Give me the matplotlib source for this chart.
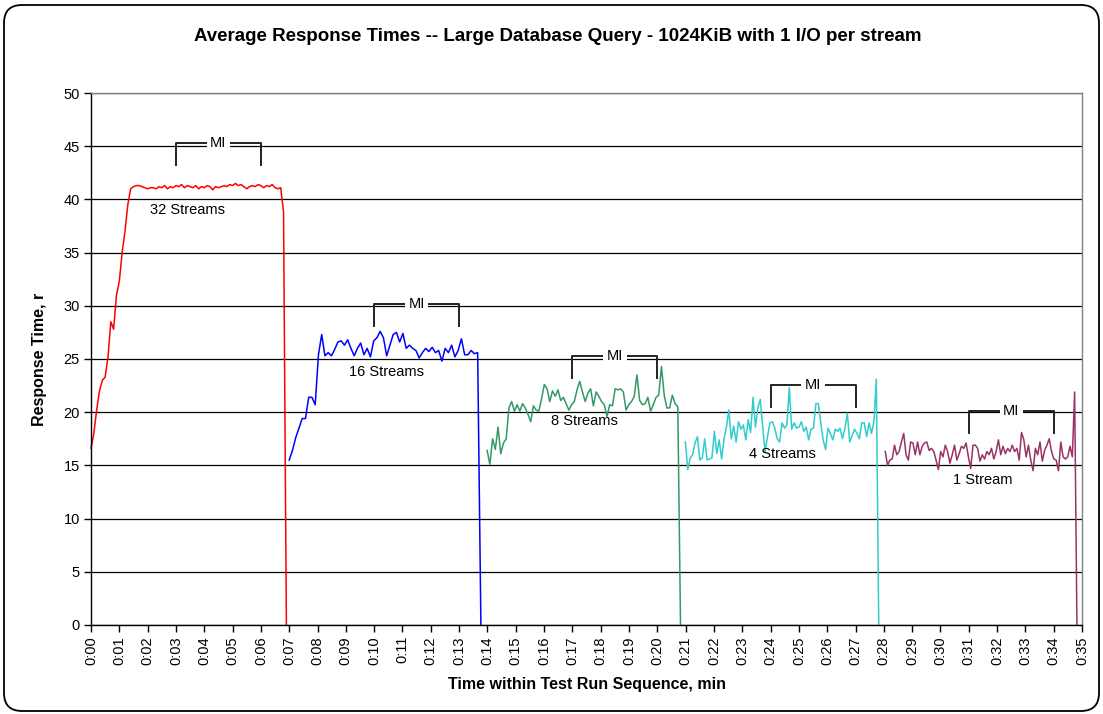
import numpy as np
import matplotlib
matplotlib.use("Agg")
import matplotlib.pyplot as plt
from matplotlib.patches import FancyBboxPatch

plt.rcParams['font.family'] = ['Liberation Sans', 'DejaVu Sans']

# response time samples per run, last sample is the drop to zero at end of run
red_vals = [16.6, 18.0, 20.2, 22.0, 23.0, 23.3, 25.2, 28.5, 27.8, 31.0,
            32.3, 35.0, 37.0, 39.5, 41.0,
            41.2, 41.3, 41.3, 41.2, 41.1, 41.0, 41.1, 41.1, 41.0, 41.2,
            41.1, 41.3, 41.0, 41.2, 41.1, 41.3, 41.2, 41.4, 41.1, 41.3,
            41.2, 41.1, 41.3, 41.0, 41.2, 41.1, 41.3, 41.2, 40.9, 41.2,
            41.1, 41.2, 41.3, 41.2, 41.4, 41.3, 41.5, 41.3, 41.4, 41.2,
            41.0, 41.2, 41.3, 41.2, 41.4, 41.3, 41.1, 41.3, 41.2, 41.4,
            41.1, 41.0, 41.1, 38.8, 0.0]
blue_vals = [15.5, 16.4, 17.6, 18.5, 19.4, 19.4, 21.4, 21.4, 20.7, 25.4,
             27.3, 25.3, 25.6, 25.3, 25.9, 26.6, 26.7, 26.3, 26.8, 26.0,
             25.3, 26.0, 26.5, 25.4, 26.0, 25.2, 26.7, 27.0, 27.6, 27.0,
             25.3, 26.3, 27.3, 27.5, 26.6, 27.4, 26.0, 26.3, 26.0, 25.8,
             25.1, 25.6, 26.0, 25.7, 26.1, 25.6, 25.8, 24.8, 26.0, 25.6,
             26.3, 25.2, 25.8, 26.9, 25.4, 25.4, 25.8, 25.5, 25.6, 0.0]
green_vals = [16.4, 15.1, 17.5, 16.5, 18.6, 16.1, 17.1, 17.5, 20.4, 21.0,
              20.1, 20.7, 20.1, 20.8, 20.4, 19.8, 19.1, 20.6, 20.2, 20.1,
              21.3, 22.6, 22.2, 21.0, 22.0, 21.5, 22.1, 21.1, 21.4, 20.8,
              20.2, 20.7, 21.0, 22.1, 22.9, 21.9, 21.0, 21.8, 22.2, 20.6,
              21.9, 21.5, 21.0, 20.7, 19.6, 20.7, 20.6, 22.2, 22.1, 22.2,
              21.9, 20.2, 20.7, 21.0, 21.5, 23.5, 21.1, 20.7, 20.8, 21.4,
              20.1, 20.7, 21.4, 21.6, 24.3, 21.6, 20.4, 20.4, 21.6, 20.8,
              20.5, 0.0]
cyan_vals = [17.2, 14.6, 15.7, 16.0, 17.1, 17.7, 15.5, 15.7, 17.5, 15.5,
             15.6, 15.7, 18.2, 16.1, 17.4, 15.6, 17.5, 18.6, 20.2, 17.5,
             18.7, 17.2, 19.1, 18.4, 18.8, 17.4, 19.3, 18.1, 21.4, 18.6,
             20.4, 21.2, 18.6, 16.3, 17.7, 19.0, 19.1, 18.5, 17.5, 17.2,
             19.0, 18.5, 18.8, 22.3, 18.4, 19.0, 18.5, 18.6, 19.1, 18.2,
             18.6, 17.4, 18.4, 18.5, 20.8, 20.8, 19.0, 17.4, 16.5, 18.5,
             18.0, 17.4, 18.4, 18.2, 18.5, 17.5, 18.5, 19.9, 17.2, 17.8,
             18.4, 18.0, 17.5, 19.0, 19.0, 17.7, 19.0, 18.0, 19.1, 23.1,
             0.0]
magenta_vals = [16.3, 15.0, 15.5, 15.6, 16.9, 16.0, 16.3, 17.2, 18.0, 16.0,
                15.5, 17.2, 17.1, 16.0, 17.2, 16.0, 16.8, 17.1, 17.2, 16.4,
                16.6, 16.3, 15.5, 14.6, 16.3, 15.8, 16.9, 16.3, 15.2, 16.0,
                16.9, 15.5, 16.1, 16.8, 16.6, 17.1, 15.8, 14.7, 16.9, 16.9,
                16.6, 15.4, 16.0, 15.6, 16.3, 16.0, 16.6, 15.6, 16.3, 17.4,
                16.0, 16.8, 16.1, 16.6, 16.3, 16.9, 16.3, 16.6, 15.5, 18.1,
                17.4, 15.8, 16.9, 15.5, 14.5, 16.6, 16.0, 17.2, 15.4, 16.4,
                16.9, 17.5, 16.3, 15.6, 15.5, 14.5, 17.2, 15.8, 15.6, 15.8,
                16.8, 15.8, 21.9, 0.0]

# run start / end within the sequence (minutes)
run_start = [0.0, 7.0, 13.99, 20.99, 28.05]
run_end = [6.9, 13.77, 20.82, 27.82, 34.82]
run_colors = ['#FF0000', '#0000FF', '#339966', '#33CCCC', '#993366']
run_labels = ['32 Streams', '16 Streams', '8 Streams', '4 Streams', '1 Stream']
label_pos = [(3.4, 39.0), (10.45, 23.8), (17.43, 19.2), (24.43, 16.1), (31.5, 13.6)]

# measurement interval brackets
mi_start = [3, 10, 17, 24, 31]
mi_end = [6, 13, 20, 27, 34]
mi_top = [45.3, 30.2, 25.3, 22.6, 20.1]

series = [red_vals, blue_vals, green_vals, cyan_vals, magenta_vals]

fig = plt.figure(figsize=(11.03, 7.14), dpi=100)
ax = fig.add_axes([0.0825, 0.1247, 0.8985, 0.745])

ax.set_axisbelow(True)
ax.yaxis.grid(True, color='black', lw=0.9)

for vals, t0, t1, c in zip(series, run_start, run_end, run_colors):
    t = np.linspace(t0, t1, len(vals))
    ax.plot(t, vals, color=c, lw=1.1, clip_on=False)

for (lx, ly), txt in zip(label_pos, run_labels):
    ax.text(lx, ly, txt, ha='center', va='center', fontsize=10.5)

for a, b, top in zip(mi_start, mi_end, mi_top):
    ax.plot([a, a, b, b], [top - 2.1, top, top, top - 2.1], color='#222222', lw=1.4)
    ax.text((a + b) / 2, top, 'MI', ha='center', va='center', fontsize=10.5,
            bbox=dict(facecolor='white', edgecolor='none', pad=2.5))

ax.set_xlim(0, 35)
ax.set_ylim(0, 50)
ax.set_xticks(range(36))
ax.set_xticklabels([f"0:{i:02d}" for i in range(36)], rotation=90, fontsize=10.5)
ax.set_yticks(range(0, 51, 5))
ax.tick_params(axis='y', labelsize=10.5)
ax.tick_params(direction='out', length=5, width=1, color='black', pad=3)

for s in ['left', 'bottom']:
    ax.spines[s].set_color('black')
    ax.spines[s].set_linewidth(1.0)
for s in ['top', 'right']:
    ax.spines[s].set_color('#808080')
    ax.spines[s].set_linewidth(1.0)

ax.set_xlabel('Time within Test Run Sequence, min', fontsize=11.5,
              fontweight='bold', labelpad=9)
ax.set_ylabel('Response Time, r', fontsize=11.5, fontweight='bold', labelpad=12)
fig.text(0.506, 0.949, 'Average Response Times -- Large Database Query - 1024KiB with 1 I/O per stream',
         ha='center', va='center', fontsize=13.5, fontweight='bold')

# rounded chart-area border
border = FancyBboxPatch((0.04, 0.03), 10.95, 7.06, boxstyle='round,pad=0,rounding_size=0.18',
                        transform=fig.dpi_scale_trans, facecolor='none',
                        edgecolor='black', lw=1.3)
fig.patches.append(border)

fig.savefig('out.png', dpi=100)
